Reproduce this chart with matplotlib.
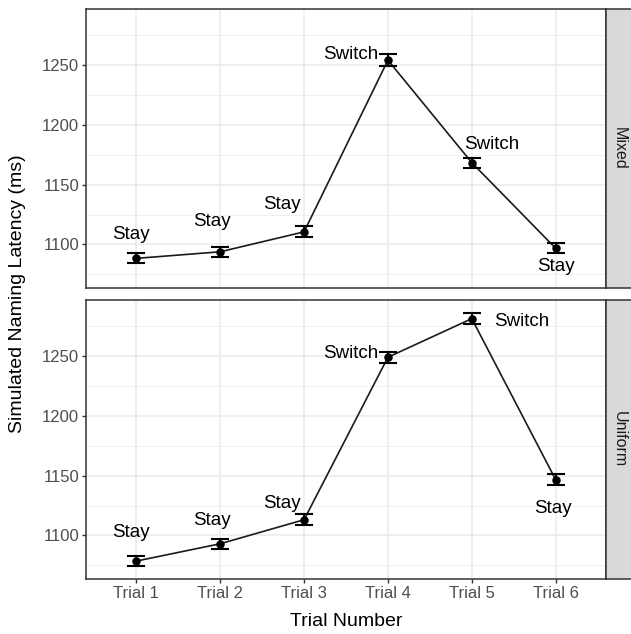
import numpy as np
import matplotlib.pyplot as plt

plt.rcParams['font.family'] = ['Liberation Sans', 'DejaVu Sans']

trials = ['Trial 1', 'Trial 2', 'Trial 3', 'Trial 4', 'Trial 5', 'Trial 6']
panels = ['Mixed', 'Uniform']

# mean naming latency and standard error per trial
mixed_mean = [1088.3, 1093.8, 1110.5, 1254.2, 1168.4, 1096.7]
mixed_se = [4.2, 4.2, 4.6, 4.8, 4.3, 4.3]
mixed_type = ['Stay', 'Stay', 'Stay', 'Switch', 'Switch', 'Stay']

uniform_mean = [1078.5, 1093.0, 1113.1, 1249.1, 1281.4, 1146.6]
uniform_se = [4.3, 4.0, 4.6, 4.6, 4.4, 4.6]
uniform_type = ['Stay', 'Stay', 'Stay', 'Switch', 'Switch', 'Stay']

# where each label sits relative to its point (x in trials, y in ms)
mixed_lab_dx = [-0.06, -0.10, -0.26, -0.44, 0.24, 0.0]
mixed_lab_dy = [20, 25, 23, 4.5, 15, -15.5]
uniform_lab_dx = [-0.06, -0.10, -0.26, -0.44, 0.60, -0.03]
uniform_lab_dy = [24, 19.5, 14, 3, -2.5, -24]

data = {
    'Mixed': (mixed_mean, mixed_se, mixed_type, mixed_lab_dx, mixed_lab_dy),
    'Uniform': (uniform_mean, uniform_se, uniform_type, uniform_lab_dx, uniform_lab_dy),
}

W, H = 631, 634
fig = plt.figure(figsize=(W / 100, H / 100), dpi=100)

left, right = 86, 606
tops = [9, 300]
ph = 279
x = np.arange(1, len(trials) + 1)

for i, name in enumerate(panels):
    mean, se, kind, dx, dy = data[name]
    top = tops[i]
    ax = fig.add_axes([left / W, 1 - (top + ph) / H, (right - left) / W, ph / H])
    ax.set_xlim(0.4, 6.6)
    ax.set_ylim(1063.5, 1297)
    ax.set_yticks([1100, 1150, 1200, 1250])
    ax.set_yticks([1075, 1125, 1175, 1225, 1275], minor=True)
    ax.set_xticks(x)
    ax.grid(True, which='major', color='#EBEBEB', lw=1.1)
    ax.grid(True, which='minor', axis='y', color='#EBEBEB', lw=0.55)
    ax.set_axisbelow(True)
    for s in ax.spines.values():
        s.set_color('#333333')
        s.set_linewidth(1.1)
    ax.tick_params(which='major', length=3, width=1, color='#333333',
                   labelsize=12, labelcolor='#4D4D4D', pad=2)
    ax.tick_params(which='minor', length=0)
    if i == 0:
        ax.tick_params(axis='x', length=0, labelbottom=False)
    else:
        ax.set_xticklabels(trials)

    ax.plot(x, mean, color='#1A1A1A', lw=1.2, zorder=2)
    ax.errorbar(x, mean, yerr=se, fmt='none', ecolor='black', elinewidth=1.5,
                capsize=6.2, capthick=1.5, zorder=3)
    ax.scatter(x, mean, s=26, color='black', zorder=4)
    for xi, m, k, ox, oy in zip(x, mean, kind, dx, dy):
        ax.text(xi + ox, m + oy, k, ha='center', va='center', fontsize=13.5,
                color='black')

    # facet strip on the right
    sax = fig.add_axes([right / W, 1 - (top + ph) / H, 26 / W, ph / H])
    sax.set_xticks([])
    sax.set_yticks([])
    sax.set_facecolor('#D9D9D9')
    for s in sax.spines.values():
        s.set_color('#333333')
        s.set_linewidth(1.1)
    sax.text(0.5, 0.5, name, rotation=-90, ha='center', va='center',
             fontsize=11.5, color='#1A1A1A', transform=sax.transAxes)

fig.text(18 / W, 1 - 294 / H, 'Simulated Naming Latency (ms)', rotation=90,
         ha='center', va='center', fontsize=14)
fig.text(346 / W, 1 - 621 / H, 'Trial Number', ha='center', va='center',
         fontsize=14)

fig.savefig('out.png', dpi=100)
